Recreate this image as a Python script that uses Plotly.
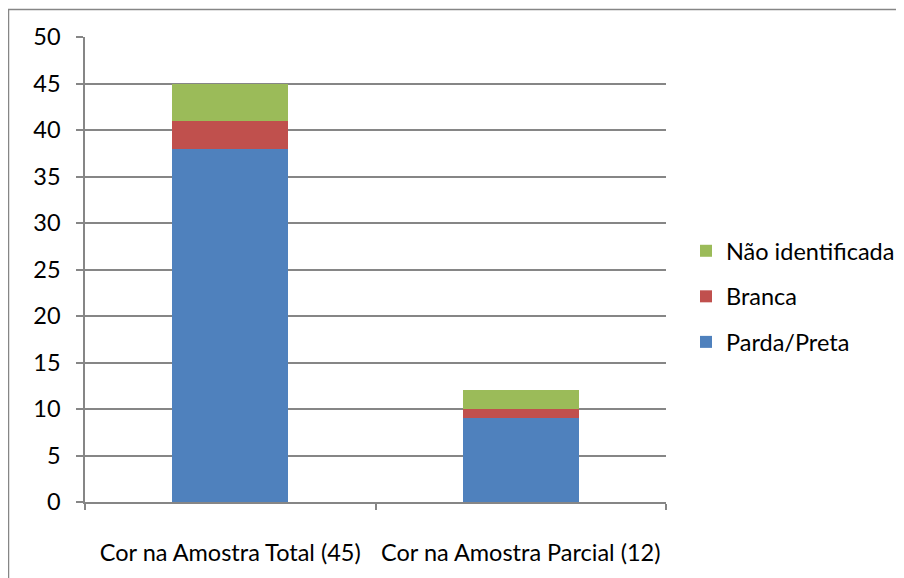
import plotly.graph_objects as go

categories = ["Cor na Amostra Total (45)", "Cor na Amostra Parcial (12)"]
parda_preta = [38, 9]
branca = [3, 1]
nao_identificada = [4, 2]
y_ticks = [0, 5, 10, 15, 20, 25, 30, 35, 40, 45, 50]

# page body has an 8px margin; figure coords = window coords - 8
W, H = 896, 570
L, R, T, B = 77, 658, 29, 494

fig = go.Figure()
series = [
    ("Parda/Preta", parda_preta, "#4F81BD", 3),
    ("Branca", branca, "#C0504D", 2),
    ("Não identificada", nao_identificada, "#9BBB59", 1),
]
for name, vals, col, rank in series:
    fig.add_trace(go.Bar(
        x=categories, y=vals, name=name, legendgroup=name, legendrank=rank,
        marker=dict(color=col, line=dict(width=0)), width=0.4,
    ))

font_family = "Lato, 'Noto Sans', sans-serif"
fig.update_layout(
    width=W, height=H,
    barmode="stack",
    plot_bgcolor="white", paper_bgcolor="white",
    margin=dict(l=L, r=W - R, t=T, b=H - B, pad=0, autoexpand=False),
    font=dict(family=font_family, size=23.5, color="black"),
    showlegend=True,
    legend=dict(
        x=(678 - L) / (R - L), y=(B - 221) / (B - T), xanchor="left", yanchor="top",
        traceorder="grouped", tracegroupgap=12,
        font=dict(size=23.5), bgcolor="rgba(0,0,0,0)", itemwidth=30,
    ),
    xaxis=dict(
        showline=True, linecolor="#868686", linewidth=2,
        ticks="outside", tickson="boundaries", ticklen=6, tickcolor="#868686", tickwidth=1.5,
        showgrid=False, ticklabelstandoff=29, tickfont=dict(size=23.5),
    ),
    yaxis=dict(
        range=[0, 50], tickvals=y_ticks, showline=True, linecolor="#868686", linewidth=1.5,
        ticks="outside", ticklen=7, tickcolor="#868686", tickwidth=1.5,
        showgrid=True, gridcolor="#868686", gridwidth=1.5, zeroline=False,
        ticklabelstandoff=11, tickfont=dict(size=23.5),
    ),
    shapes=[dict(
        type="rect", xref="paper", yref="paper",
        x0=(0.5 - L) / (R - L), x1=(W + 20 - L) / (R - L),
        y0=(B - (H + 20)) / (B - T), y1=(B - 1.5) / (B - T),
        line=dict(color="#868686", width=1.5), fillcolor="rgba(0,0,0,0)", layer="below",
    )],
)

fig.write_html("out.html")
